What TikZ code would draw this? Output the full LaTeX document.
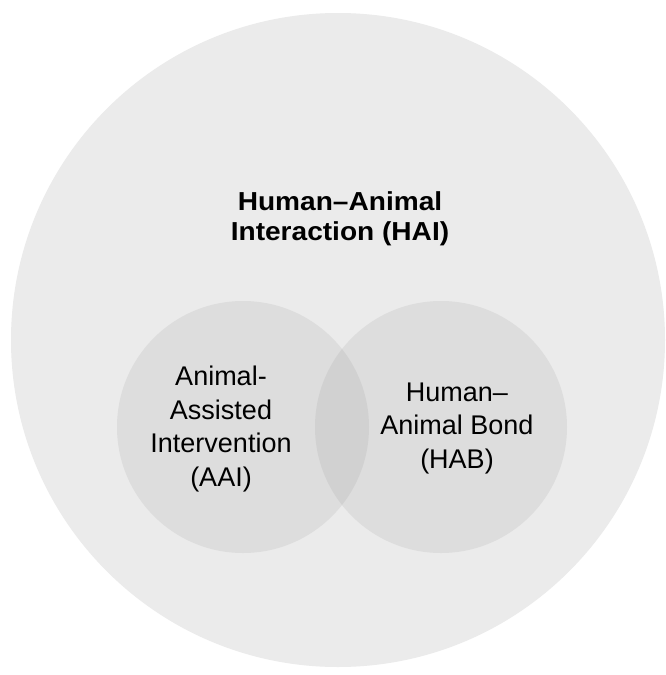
\documentclass[tikz,border=0pt]{standalone}
\usepackage{fontspec}
\setmainfont{Liberation Sans}
\newfontfamily\titlefont[FakeStretch=1.08,Ligatures=TeX]{Liberation Sans}
\definecolor{bigfill}{RGB}{235,235,235}
\definecolor{smallfill}{RGB}{221,221,221}
\definecolor{lensfill}{RGB}{209,209,209}
\begin{document}
\begin{tikzpicture}[x=1pt,y=-1pt,
  bigcircle/.style={circle,fill=bigfill,minimum size=654pt,inner sep=0pt},
  smallcircle/.style={circle,fill=smallfill,minimum size=252pt,inner sep=0pt},
  titletext/.style={align=center,text=black,font=\titlefont\bfseries\fontsize{26}{29.5}\selectfont},
  innertext/.style={align=center,text=black,font=\fontsize{27}{33.5}\selectfont}]
\fill[white] (0,0) rectangle (665,675);
\useasboundingbox (0,0) rectangle (665,675);
\node[bigcircle] (hai) at (338,340) {};
\node[smallcircle] (aai) at (243,427) {};
\node[smallcircle] (hab) at (441,427) {};
\begin{scope}
  \clip (243,427) circle (126);
  \fill[lensfill] (441,427) circle (126);
\end{scope}
\node[titletext] (haitext) at (340,219) {Human–Animal\\Interaction (HAI)};
\node[innertext] (aaitext) at (221,429) {Animal-\\Assisted\\Intervention\\(AAI)};
\node[innertext] (habtext) at (457,428) {Human–\\Animal Bond\\(HAB)};
\end{tikzpicture}
\end{document}
